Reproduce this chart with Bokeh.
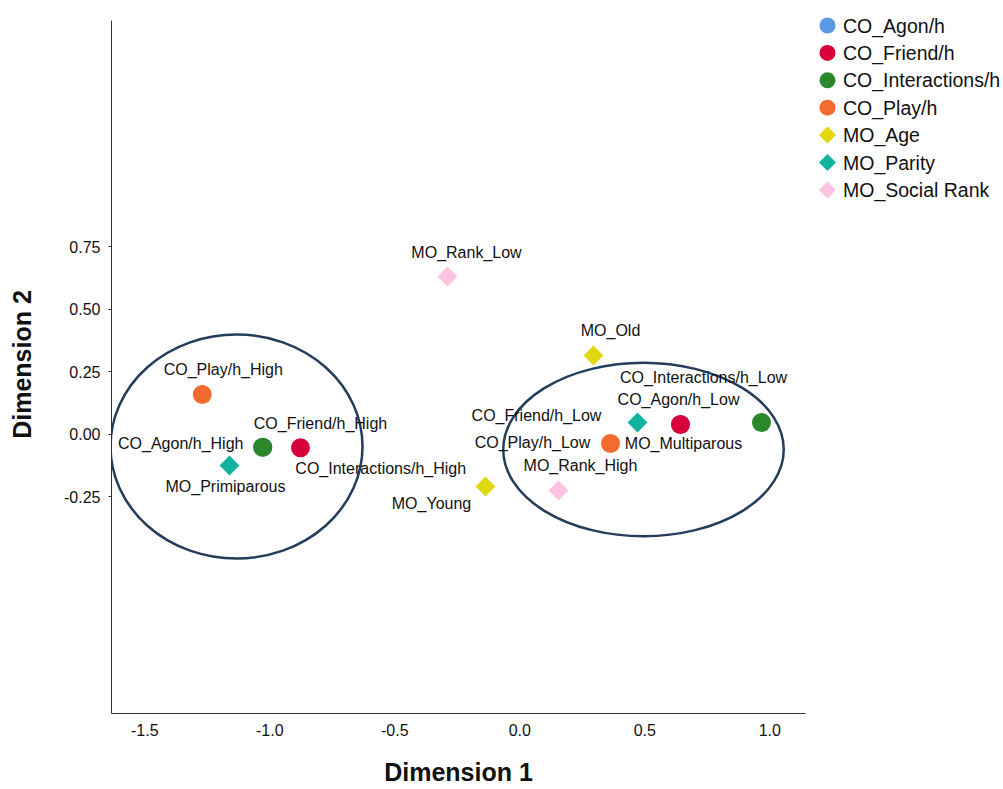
import numpy as np
from bokeh.plotting import figure
from bokeh.layouts import row
from bokeh.models import Range1d, FixedTicker, PrintfTickFormatter, ColumnDataSource
from bokeh.core.properties import value
from bokeh.embed import file_html
from bokeh.resources import INLINE

# ---------------- data ----------------
series_names = ["CO_Agon/h", "CO_Friend/h", "CO_Interactions/h", "CO_Play/h",
                "MO_Age", "MO_Parity", "MO_Social Rank"]
series_colors = ["#5A9BE6", "#D7003B", "#2A872B", "#F36A2E",
                 "#E2D80F", "#10B3A0", "#FFC3E1"]
series_markers = ["circle", "circle", "circle", "circle", "diamond", "diamond", "diamond"]

point_labels = ["CO_Agon/h_High", "CO_Agon/h_Low",
                "CO_Friend/h_High", "CO_Friend/h_Low",
                "CO_Interactions/h_High", "CO_Interactions/h_Low",
                "CO_Play/h_High", "CO_Play/h_Low",
                "MO_Old", "MO_Young",
                "MO_Primiparous", "MO_Multiparous",
                "MO_Rank_High", "MO_Rank_Low"]
point_series = [0, 0, 1, 1, 2, 2, 3, 3, 4, 4, 5, 5, 6, 6]
dim1 = [-1.028, 0.643, -0.877, 0.643, -1.028, 0.967, -1.270, 0.363,
        0.295, -0.137, -1.161, 0.471, 0.155, -0.289]
dim2 = [-0.053, 0.038, -0.055, 0.038, -0.053, 0.046, 0.158, -0.038,
        0.314, -0.210, -0.126, 0.046, -0.226, 0.630]

x_ticks = [-1.5, -1.0, -0.5, 0.0, 0.5, 1.0]
y_ticks = [-0.25, 0.0, 0.25, 0.5, 0.75]
x_title = "Dimension 1"
y_title = "Dimension 2"

# cluster ellipses (centre x, centre y, width, height)
ell_x = [-1.133, 0.495]
ell_y = [-0.050, -0.062]
ell_w = [1.008, 1.122]
ell_h = [0.896, 0.694]

# label placement (pixel offsets from point)
lab_dx = [-82, -2, 20, -144, 118, -58, 21, -78, 17, -54, -4, 46, 22, 19]
lab_dy = [-4, -25, -24, -9, 21, -45, -25, -1, -25, 17, 21, 21, -25, -24]

FONT = "Liberation Sans"

# ---------------- geometry ----------------
H = 789
MAIN_W, LEG_W = 815, 188
LEFT, RIGHT, TOP, BOTTOM = 111, 10, 15, 76
SCALE = 250.0
X_MIN, Y_MIN = -1.633, -1.118
X_MAX = X_MIN + (MAIN_W - LEFT - RIGHT) / SCALE
Y_MAX = Y_MIN + (H - TOP - BOTTOM) / SCALE
AX_Y = (Y_MIN, 1.654)            # y axis line stops a little below the frame top

# ---------------- main plot ----------------
p = figure(width=MAIN_W, height=H,
           x_range=Range1d(X_MIN, X_MAX), y_range=Range1d(Y_MIN, Y_MAX),
           output_backend="svg", toolbar_location=None,
           min_border_left=LEFT, min_border_right=RIGHT,
           min_border_top=TOP, min_border_bottom=BOTTOM)
p.grid.visible = False
p.outline_line_color = None

p.xaxis.ticker = FixedTicker(ticks=x_ticks)
p.yaxis.ticker = FixedTicker(ticks=y_ticks)
p.xaxis.formatter = PrintfTickFormatter(format="%.1f")
p.yaxis.formatter = PrintfTickFormatter(format="%.2f")
p.yaxis.bounds = AX_Y
for ax in (p.xaxis[0], p.yaxis[0]):
    ax.axis_line_color = "#333333"
    ax.axis_line_width = 1
    ax.minor_tick_line_color = None
    ax.major_tick_in = 0
    ax.major_label_text_font = FONT
    ax.major_label_text_font_size = "16px"
    ax.major_label_text_color = "#111111"
    ax.axis_label_text_font = FONT
    ax.axis_label_text_font_size = "25px"
    ax.axis_label_text_font_style = "bold"
    ax.axis_label_text_color = "#111111"
p.xaxis.major_tick_out = 0
p.xaxis.major_tick_line_color = None
p.yaxis.major_tick_out = 3
p.yaxis.major_tick_line_color = "#333333"
p.xaxis.major_label_standoff = 10
p.yaxis.major_label_standoff = 8
p.xaxis.axis_label = x_title
p.yaxis.axis_label = y_title
p.xaxis.axis_label_standoff = 19
p.yaxis.axis_label_standoff = 25

# ellipses
p.ellipse(x=ell_x, y=ell_y, width=ell_w, height=ell_h,
          fill_color=None, line_color="#243D5C", line_width=2.5)

# points, series in legend order (later series drawn on top)
for si, name in enumerate(series_names):
    idx = [i for i, s in enumerate(point_series) if s == si]
    xs = [dim1[i] for i in idx]
    ys = [dim2[i] for i in idx]
    if series_markers[si] == "circle":
        p.scatter(xs, ys, marker="circle", size=19,
                  fill_color=series_colors[si], line_color=None)
    else:
        p.scatter(xs, ys, marker="square", size=14, angle=np.pi / 4,
                  fill_color=series_colors[si], line_color=None)

# point labels
src = ColumnDataSource(dict(x=dim1, y=dim2, t=point_labels, dx=lab_dx, dy=lab_dy))
p.text(x="x", y="y", text="t", x_offset="dx", y_offset="dy", source=src,
       text_font=value(FONT), text_font_size="16px", text_color="#111111",
       text_align="center", text_baseline="middle")

# ---------------- legend panel (frame aligned with the main plot) ----------------
leg = figure(width=LEG_W, height=H,
             x_range=Range1d(0, LEG_W), y_range=Range1d(H - BOTTOM, TOP),
             output_backend="svg", toolbar_location=None,
             x_axis_type=None, y_axis_type=None,
             min_border_left=0, min_border_right=0,
             min_border_top=TOP, min_border_bottom=BOTTOM)
leg.grid.visible = False
leg.outline_line_color = None

n = len(series_names)
leg_y = [25 + 27.4 * i for i in range(n)]
for i in range(n):
    if series_markers[i] == "circle":
        leg.scatter([12], [leg_y[i]], marker="circle", size=16,
                    fill_color=series_colors[i], line_color=None)
    else:
        leg.scatter([12], [leg_y[i]], marker="square", size=12, angle=np.pi / 4,
                    fill_color=series_colors[i], line_color=None)
leg.text(x=[27.5] * n, y=leg_y, text=series_names,
         text_font=value(FONT), text_font_size="19.5px", text_color="#111111",
         text_align="left", text_baseline="middle")

open("out.html", "w").write(file_html(row(p, leg), INLINE))
